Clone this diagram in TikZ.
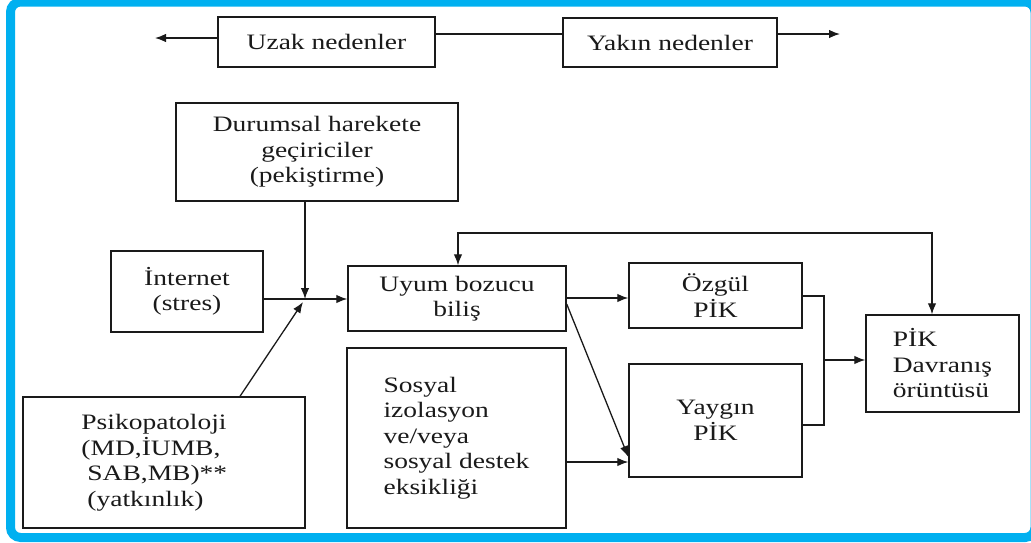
\documentclass[tikz,border=0pt]{standalone}
\usepackage{fontspec}
\setmainfont{Liberation Serif}[FakeStretch=1.25]
\usetikzlibrary{arrows.meta}
\definecolor{frameblue}{HTML}{00B0F0}
\definecolor{ink}{HTML}{1A1A1A}
\begin{document}
\begin{tikzpicture}[x=1pt,y=-1pt,
 box/.style={draw=ink, line width=1.4pt, rectangle, inner sep=0pt, align=center, font=\fontsize{22}{25.5}\selectfont, text=ink},
 conn/.style={draw=ink, line width=1.3pt},
 arr/.style={conn, -{Latex[length=11pt,width=8.5pt]}},
 darr/.style={conn, {Latex[length=11pt,width=8.5pt]}-{Latex[length=11pt,width=8.5pt]}},
]
\useasboundingbox (0,0) rectangle (1031,542);
\fill[white] (0,0) rectangle (1031,542);
\begin{scope}
\clip (0,0) rectangle (1031,542);
\draw[frameblue, line width=9pt, rounded corners=10pt] (10.5,2) rectangle (1035,537.5);
\end{scope}

% boxes
\node[box, minimum width=217pt, minimum height=50pt] (uzak) at (326.5,42) {Uzak nedenler};
\node[box, minimum width=214pt, minimum height=49pt] (yakin) at (670,42.5) {Yakın nedenler};
\node[box, minimum width=282pt, minimum height=98pt] (durum) at (317,152) {Durumsal harekete\\geçiriciler\\(pekiştirme)};
\node[box, minimum width=152pt, minimum height=81pt] (inet) at (187,291.5) {İnternet\\(stres)};
\node[box, minimum width=218pt, minimum height=65pt] (uyum) at (457,298.5) {Uyum bozucu\\biliş};
\node[box, minimum width=173pt, minimum height=65pt] (ozgul) at (715.5,295.5) {Özgül\\PİK};
\node[box, minimum width=173pt, minimum height=113pt] (yaygin) at (715.5,420.5) {Yaygın\\PİK};
\node[box, align=left, minimum width=153pt, minimum height=97pt] (pik) at (942.5,363.5) {PİK\\Davranış\hspace*{16pt}\\örüntüsü};
\node[box, align=left, minimum width=282pt, minimum height=131pt] (psiko) at (164,462.5) {Psikopatoloji\hspace*{20pt}\\(MD,İUMB,\\\hspace*{6pt}SAB,MB)**\\\hspace*{6pt}(yatkınlık)};
\node[box, align=left, minimum width=219pt, minimum height=180pt] (sosyal) at (456.5,438) {Sosyal\\izolasyon\\ve/veya\\sosyal destek\\eksikliği};

% coordinates
\coordinate (uzakL) at (155,38);
\coordinate (topmid) at (500,34);
\coordinate (yakinR) at (840,34);
\coordinate (j) at (305,299);
\coordinate (jt) at (303,302);
\coordinate (ps) at (240,397);
\coordinate (fbL) at (458,233);
\coordinate (fbR) at (932,233);
\coordinate (r1) at (600,298);
\coordinate (d1) at (566,304);
\coordinate (d2) at (629,457);
\coordinate (r2) at (600,462);
\coordinate (oz) at (824,296);
\coordinate (ya) at (824,425);
\coordinate (mx) at (824,360);

% connectors
\draw[arr] (uzak.west |- uzakL) -- (uzakL);
\draw[conn] (uzak.east |- topmid) -- (yakin.west |- topmid);
\draw[arr] (yakin.east |- yakinR) -- (yakinR);
\draw[arr] (j |- durum.south) -- (j);
\draw[conn] (inet.east |- j) -- (j);
\draw[arr] (j) -- (uyum.west |- j);
\draw[arr] (ps |- psiko.north) -- (jt);
\draw[darr] (uyum.north -| fbL) |- (fbR) -- (pik.north -| fbR);
\draw[arr] (uyum.east |- r1) -- (ozgul.west |- r1);
\draw[arr] (uyum.east |- d1) -- (yaygin.west |- d2);
\draw[arr] (sosyal.east |- r2) -- (yaygin.west |- r2);
\draw[conn] (ozgul.east |- oz) -- (oz) -- (ya) -- (yaygin.east |- ya);
\draw[arr] (mx) -- (pik.west |- mx);
\end{tikzpicture}
\end{document}
